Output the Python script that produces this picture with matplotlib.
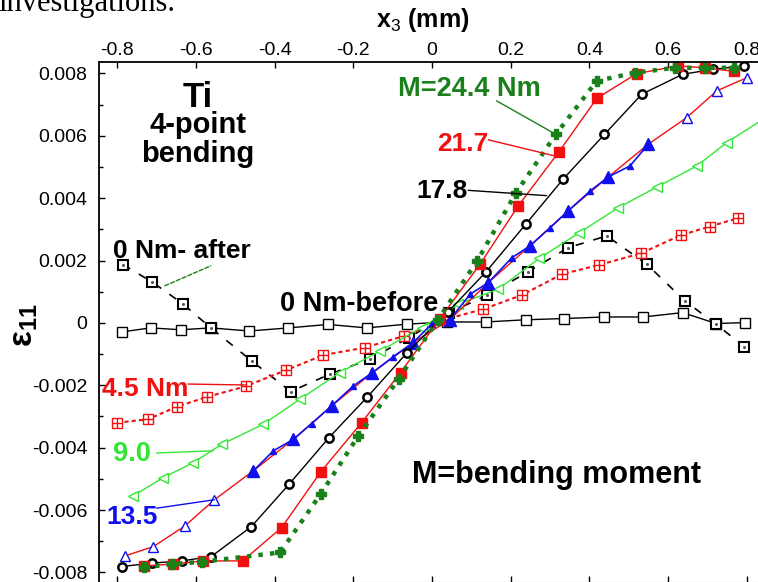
import matplotlib
matplotlib.use("Agg")
import matplotlib.pyplot as plt
from matplotlib.ticker import MultipleLocator

plt.rcParams['font.family'] = ['Liberation Sans', 'DejaVu Sans']
plt.rcParams['axes.unicode_minus'] = False
plt.rcParams['mathtext.fontset'] = 'custom'
plt.rcParams['mathtext.rm'] = 'Liberation Sans'
plt.rcParams['mathtext.bf'] = 'Liberation Sans:bold'

# x3 (mm) / strain e11
before_x = [-0.789, -0.715, -0.638, -0.562, -0.464, -0.365, -0.264, -0.166, -0.064,
            0.037, 0.137, 0.238, 0.336, 0.438, 0.537, 0.637, 0.722, 0.795]
before_y = [-0.00029, -0.00016, -0.00022, -0.00016, -0.00026, -0.00016, -0.00005, -0.00016, -0.00004,
            0.00003, 0.00003, 0.0001, 0.00014, 0.00019, 0.00019, 0.00033, -0.00002, 0.00001]

after_x = [-0.785, -0.711, -0.634, -0.562, -0.457, -0.359, -0.259, -0.158, -0.058,
           0.044, 0.141, 0.243, 0.346, 0.444, 0.546, 0.643, 0.722, 0.794]
after_y = [0.00187, 0.00131, 0.00062, -0.00016, -0.00123, -0.0022, -0.00164, -0.00116, -0.00047,
           0.00033, 0.00089, 0.00163, 0.00241, 0.00279, 0.00188, 0.0007, -0.00004, -0.00077]

m45_x = [-0.8, -0.722, -0.647, -0.571, -0.473, -0.372, -0.276, -0.17, -0.071,
         0.03, 0.13, 0.228, 0.33, 0.425, 0.531, 0.632, 0.706, 0.778]
m45_y = [-0.0032, -0.00309, -0.00268, -0.00237, -0.00203, -0.00152, -0.00103, -0.00079, -0.00042,
         0.0001, 0.00044, 0.00089, 0.00156, 0.00186, 0.00223, 0.00281, 0.00309, 0.00336]

m90_x = [-0.759, -0.683, -0.607, -0.534, -0.429, -0.335, -0.234, -0.132, -0.026,
         0.067, 0.168, 0.273, 0.374, 0.473, 0.572, 0.673, 0.749, 0.85]
m90_y = [-0.00554, -0.00496, -0.00448, -0.00389, -0.00325, -0.00244, -0.00159, -0.0009, -0.00015,
         0.0006, 0.00108, 0.00207, 0.00289, 0.00369, 0.00436, 0.00503, 0.00578, 0.0066]

m135_x = [-0.78, -0.708, -0.628, -0.553, -0.454, -0.352, -0.255, -0.152, -0.048,
          0.045, 0.143, 0.249, 0.346, 0.448, 0.55, 0.647, 0.724, 0.8]
m135_y = [-0.00747, -0.00717, -0.00651, -0.00567, -0.00474, -0.00373, -0.00266, -0.0016, -0.00063,
          0.0001, 0.00129, 0.00247, 0.00359, 0.00468, 0.00573, 0.00658, 0.00744, 0.00786]

# blue overlay on the 13.5 curve (big / small triangles alternate)
blue_x = [-0.454, -0.403, -0.352, -0.306, -0.255, -0.2, -0.152, -0.1, -0.048, 0.0, 0.045,
          0.097, 0.143, 0.203, 0.249, 0.3, 0.346, 0.402, 0.448, 0.503, 0.55]
blue_y = [-0.00474, -0.0041, -0.00373, -0.00323, -0.00266, -0.00202, -0.0016, -0.0011, -0.00063, -0.00003, 0.0001,
          0.00092, 0.00129, 0.00209, 0.00247, 0.00305, 0.00359, 0.00423, 0.00468, 0.00503, 0.00573]

m178_x = [-0.788, -0.711, -0.636, -0.561, -0.459, -0.363, -0.262, -0.164, -0.063,
          0.041, 0.137, 0.238, 0.334, 0.438, 0.533, 0.637, 0.715, 0.794]
m178_y = [-0.00781, -0.0077, -0.00763, -0.00749, -0.00653, -0.00517, -0.00368, -0.00237, -0.00095,
          0.00036, 0.00163, 0.00316, 0.00462, 0.00604, 0.00733, 0.00797, 0.00813, 0.00824]

m217_x = [-0.731, -0.659, -0.581, -0.481, -0.382, -0.283, -0.179, -0.08, 0.02,
          0.122, 0.219, 0.323, 0.419, 0.52, 0.624, 0.694, 0.768]
m217_y = [-0.00779, -0.00773, -0.00763, -0.00763, -0.00656, -0.00478, -0.0032, -0.00159, 0.00013,
          0.00188, 0.00375, 0.00549, 0.0072, 0.00799, 0.00824, 0.00818, 0.00806]

m244_x = [-0.733, -0.66, -0.585, -0.386, -0.283, -0.187, -0.085, 0.015,
          0.115, 0.213, 0.315, 0.419, 0.516, 0.618, 0.694, 0.768]
m244_y = [-0.00784, -0.00773, -0.00766, -0.00736, -0.00549, -0.00362, -0.0018, 0.0001,
          0.00199, 0.00416, 0.00605, 0.00776, 0.00802, 0.00818, 0.00818, 0.00818]

RED = '#f01010'
LGREEN = '#33e633'
DGREEN = '#1a801a'
BLUE = '#1010ee'

fig = plt.figure(figsize=(7.58, 5.82), dpi=100)
ax = fig.add_axes([98.5 / 758, 0.5 / 582, 1 - 98.5 / 758, 520 / 582])

# 0 Nm before / after
ax.plot(before_x, before_y, '-', color='black', lw=1, marker='s', ms=7,
        mfc='white', mec='black', mew=1)
ax.plot(after_x, after_y, color='black', lw=1.2, ls=(0, (5, 6)), marker='s', ms=6.5,
        mfc='white', mec='black', mew=1.5)
ax.plot(after_x, after_y, ls='none', marker='o', ms=2.2, mfc='#555555', mec='none')

# 4.5 Nm
ax.plot(m45_x, m45_y, color=RED, lw=1.5, ls=(0, (2, 1.5)), marker='s', ms=6.5,
        mfc='white', mec=RED, mew=1)
ax.plot(m45_x, m45_y, ls='none', marker='+', ms=6.5, mec=RED, mew=1)

# 9.0 Nm
ax.plot(m90_x, m90_y, color=LGREEN, lw=1, marker='<', ms=6.5, mfc='white', mec=LGREEN, mew=1)

# 13.5 Nm
ax.plot(m135_x, m135_y, color=RED, lw=1, marker='^', ms=7, mfc='white', mec=BLUE, mew=1)
ax.plot(blue_x, blue_y, color=BLUE, lw=1.2)
ax.plot(blue_x[::2], blue_y[::2], ls='none', marker='^', ms=8, color=BLUE)
ax.plot(blue_x[1::2], blue_y[1::2], ls='none', marker='^', ms=5, color=BLUE)

# 17.8 Nm
ax.plot(m178_x, m178_y, color='black', lw=1, marker='o', ms=6, mfc='white', mec='black', mew=1.8)

# 21.7 Nm
ax.plot(m217_x, m217_y, color=RED, lw=1, marker='s', ms=7, mfc=RED, mec=RED)

# 24.4 Nm
ax.plot(m244_x, m244_y, color=DGREEN, lw=3.2, ls=(0, (1, 1.6)), marker='P', ms=7.5,
        mfc=DGREEN, mec=DGREEN)

# labels and leader lines
lead = dict(arrowstyle='-', shrinkA=0, shrinkB=0)
ax.text(-0.595, 0.00693, 'Ti', fontsize=25, fontweight='bold', ha='center', va='baseline')
ax.text(-0.595, 0.00609, '4-point', fontsize=21, fontweight='bold', ha='center', va='baseline')
ax.text(-0.595, 0.00516, 'bending', fontsize=21, fontweight='bold', ha='center', va='baseline')

ax.text(-0.0864, 0.00728, 'M=24.4 Nm', fontsize=19.5, fontweight='bold', color=DGREEN, va='baseline')
ax.annotate('', xy=(0.307, 0.0061), xytext=(0.164, 0.00712),
            arrowprops=dict(lead, color=DGREEN, lw=1))

ax.text(0.012, 0.00551, '21.7', fontsize=19, fontweight='bold', color=RED, va='baseline')
ax.annotate('', xy=(0.313, 0.00535), xytext=(0.143, 0.00587),
            arrowprops=dict(lead, color=RED, lw=1))

ax.text(-0.0407, 0.004, '17.8', fontsize=19, fontweight='bold', color='black', va='baseline')
ax.annotate('', xy=(0.291, 0.00408), xytext=(0.092, 0.00425),
            arrowprops=dict(lead, color='black', lw=1))

ax.text(-0.81, 0.00208, '0 Nm- after', fontsize=19, fontweight='bold', va='baseline')
ax.annotate('', xy=(-0.562, 0.00183), xytext=(-0.679, 0.00119),
            arrowprops=dict(lead, color=DGREEN, lw=1, ls=(0, (3, 1.5))))

ax.text(-0.386, 0.00038, '0 Nm-before', fontsize=19.5, fontweight='bold', va='baseline')

ax.text(-0.839, -0.00234, '4.5 Nm', fontsize=19, fontweight='bold', color=RED, va='baseline')
ax.annotate('', xy=(-0.473, -0.00199), xytext=(-0.62, -0.00196),
            arrowprops=dict(lead, color=RED, lw=1))

ax.text(-0.81, -0.00442, '9.0', fontsize=19.5, fontweight='bold', color=LGREEN, va='baseline')
ax.annotate('', xy=(-0.556, -0.0041), xytext=(-0.7, -0.00417),
            arrowprops=dict(lead, color=LGREEN, lw=1))

ax.text(-0.827, -0.00644, '13.5', fontsize=19, fontweight='bold', color=BLUE, va='baseline')
ax.annotate('', xy=(-0.553, -0.00567), xytext=(-0.7, -0.00594),
            arrowprops=dict(lead, color=BLUE, lw=1))

ax.text(-0.052, -0.00512, 'M=bending moment', fontsize=22, fontweight='bold', va='baseline')

# axes
ax.set_xlim(-0.8475, 0.8285)
ax.set_ylim(-0.00829, 0.00838)
ax.xaxis.set_major_locator(MultipleLocator(0.2))
ax.yaxis.set_major_locator(MultipleLocator(0.002))
ax.yaxis.set_minor_locator(MultipleLocator(0.001))
ax.xaxis.set_major_formatter(plt.FuncFormatter(lambda v, p: '0' if abs(v) < 1e-9 else f'{v:g}'))
ax.yaxis.set_major_formatter(plt.FuncFormatter(lambda v, p: '0' if abs(v) < 1e-9 else f'{v:.3f}'))
ax.tick_params(axis='x', which='both', top=True, bottom=True, labeltop=True, labelbottom=False,
               direction='in', length=4, width=1, pad=2, labelsize=14)
ax.tick_params(axis='y', which='major', direction='in', length=4, width=1, pad=8, labelsize=14)
ax.tick_params(axis='y', which='minor', direction='in', length=3, width=1)
ax.spines['right'].set_visible(False)
ax.spines['bottom'].set_color('#999999')
for s in ['top', 'left']:
    ax.spines[s].set_linewidth(1.3)

fig.text(376 / 758, 1 - 27 / 582, 'x$_3$ (mm)', fontsize=18, fontweight='bold',
         ha='left', va='baseline')
fig.text(25 / 758, 1 - 325 / 582, r'ε$_{\mathbf{11}}$', fontsize=24, fontweight='bold',
         rotation=90, ha='center', va='center')
fig.text(-2 / 758, 1 - 11 / 582, 'investigations.', fontsize=22,
         family='Liberation Serif', ha='left', va='baseline')

fig.savefig('out.png', dpi=100)
